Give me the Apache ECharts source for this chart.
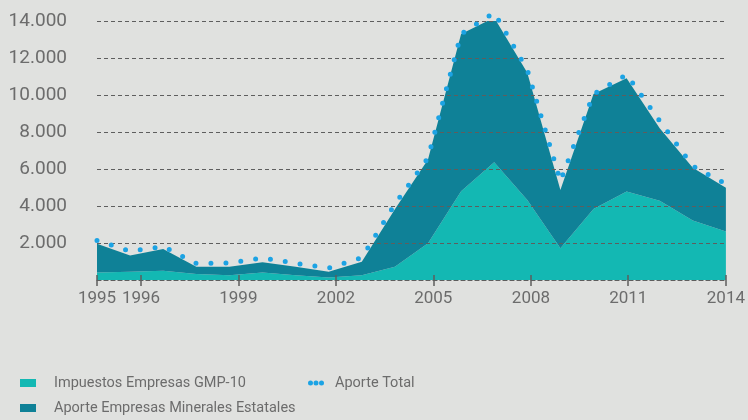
<!DOCTYPE html>
<html>
<head>
<meta charset="utf-8">
<script src="https://cdn.jsdelivr.net/npm/echarts@6/dist/echarts.min.js"></script>
<style>
  html, body { margin: 0; padding: 0; background: #e0e1df; }
  #chart { width: 748px; height: 420px; }
</style>
</head>
<body>
<div id="chart"></div>
<script>
// ---- data ----
const years = ['1995','1996','1997','1998','1999','2000','2001','2002','2003','2004','2005','2006','2007','2008','2009','2010','2011','2012','2013','2014'];
const impuestosGMP10 = [400,450,500,330,260,400,260,130,260,720,1990,4800,6370,4330,1720,3840,4780,4290,3220,2620];
const aporteEstatales = [1560,880,1170,390,460,560,460,320,730,3110,4530,8500,7810,6870,3140,6210,6120,3910,2850,2360];
const aporteTotal = [2140,1560,1810,900,920,1200,900,650,1200,4100,6600,13300,14450,11360,5350,10050,11100,8600,6150,5200];
const tickLabels = ['1995','1996','1999','2002','2005','2008','2011','2014'];
const seriesNames = ['Impuestos Empresas GMP-10', 'Aporte Empresas Minerales Estatales', 'Aporte Total'];

// ---- layout (tick placement on the year scale, as in the original) ----
const tickPositions = [1995, 1996.33, 1999.27, 2002.22, 2005.16, 2008.11, 2011.05, 2014];

const FONT = "'Roboto', sans-serif";
const TEXT = '#6c6c6c';
const GRID = '#5e5e5e';

function tickLabelFor(v) {
  for (let i = 0; i < tickPositions.length; i++) {
    if (Math.abs(tickPositions[i] - v) < 0.01) return tickLabels[i];
  }
  return '';
}

const chart = echarts.init(document.getElementById('chart'), null, { renderer: 'canvas' });
chart.setOption({
  backgroundColor: '#e0e1df',
  animation: false,
  grid: { left: 97, right: 21, top: 21, bottom: 140 },
  xAxis: [
    {
      type: 'category', data: years, boundaryGap: false,
      axisLine: { show: true, lineStyle: { color: GRID, width: 1.2, type: [4, 3] } },
      axisTick: { show: false },
      axisLabel: { show: false },
      splitLine: { show: false },
      z: 5
    },
    {
      type: 'value', min: 1995, max: 2014, position: 'bottom',
      axisLine: { show: false },
      axisTick: { show: true, customValues: tickPositions, length: 6, lineStyle: { color: GRID, width: 1.5 } },
      axisLabel: {
        customValues: tickPositions, margin: 10,
        showMinLabel: true, showMaxLabel: true, hideOverlap: false,
        formatter: tickLabelFor,
        fontFamily: FONT, fontSize: 17, color: TEXT
      },
      splitLine: { show: false },
      z: 5
    },
    {
      type: 'value', min: 1995, max: 2014, position: 'bottom',
      axisLine: { show: false },
      axisTick: { show: true, inside: true, customValues: tickPositions, length: 5, lineStyle: { color: GRID, width: 1.5 } },
      axisLabel: { show: false },
      splitLine: { show: false },
      z: 5
    }
  ],
  yAxis: {
    type: 'value', min: 0, max: 14000, interval: 2000,
    axisLine: { show: false },
    axisTick: { show: false },
    axisLabel: {
      margin: 30, fontFamily: FONT, fontSize: 19, color: TEXT,
      formatter: v => v === 0 ? '' : String(v).replace(/\B(?=(\d{3})+(?!\d))/g, '.')
    },
    splitLine: { show: true, lineStyle: { color: GRID, width: 1.2, type: [4, 3] } },
    z: 5
  },
  legend: [
    {
      orient: 'vertical', left: 20, top: 374, padding: 0,
      itemWidth: 16, itemHeight: 8, itemGap: 7,
      data: [ { name: seriesNames[0], icon: 'rect' }, { name: seriesNames[1], icon: 'rect' } ],
      textStyle: { fontFamily: FONT, fontSize: 14.5, color: TEXT, lineHeight: 18, padding: [0, 0, 0, 13] }
    },
    {
      orient: 'vertical', left: 308, top: 374, padding: 0,
      itemWidth: 16, itemHeight: 5,
      data: [ { name: seriesNames[2], icon: 'path://M0,2.5a2.5,2.5 0 1,0 5,0a2.5,2.5 0 1,0 -5,0z M5.5,2.5a2.5,2.5 0 1,0 5,0a2.5,2.5 0 1,0 -5,0z M11,2.5a2.5,2.5 0 1,0 5,0a2.5,2.5 0 1,0 -5,0z' } ],
      textStyle: { fontFamily: FONT, fontSize: 14.5, color: TEXT, lineHeight: 18, padding: [0, 0, 0, 6] }
    }
  ],
  series: [
    {
      name: seriesNames[0], type: 'line', stack: 'total', xAxisIndex: 0,
      data: impuestosGMP10,
      symbol: 'none', lineStyle: { width: 0 },
      itemStyle: { color: '#13b8b3' },
      areaStyle: { color: '#13b8b3', opacity: 1 },
      z: 2
    },
    {
      name: seriesNames[1], type: 'line', stack: 'total', xAxisIndex: 0,
      data: aporteEstatales,
      symbol: 'none', lineStyle: { width: 0 },
      itemStyle: { color: '#0f8197' },
      areaStyle: { color: '#0f8197', opacity: 1 },
      z: 2
    },
    {
      name: seriesNames[2], type: 'line', xAxisIndex: 0,
      data: aporteTotal,
      symbol: 'none', clip: false,
      itemStyle: { color: '#1ca3e4' },
      lineStyle: { color: '#1ca3e4', width: 5, type: [0, 15], cap: 'round' },
      z: 10
    }
  ]
});
</script>
</body>
</html>
